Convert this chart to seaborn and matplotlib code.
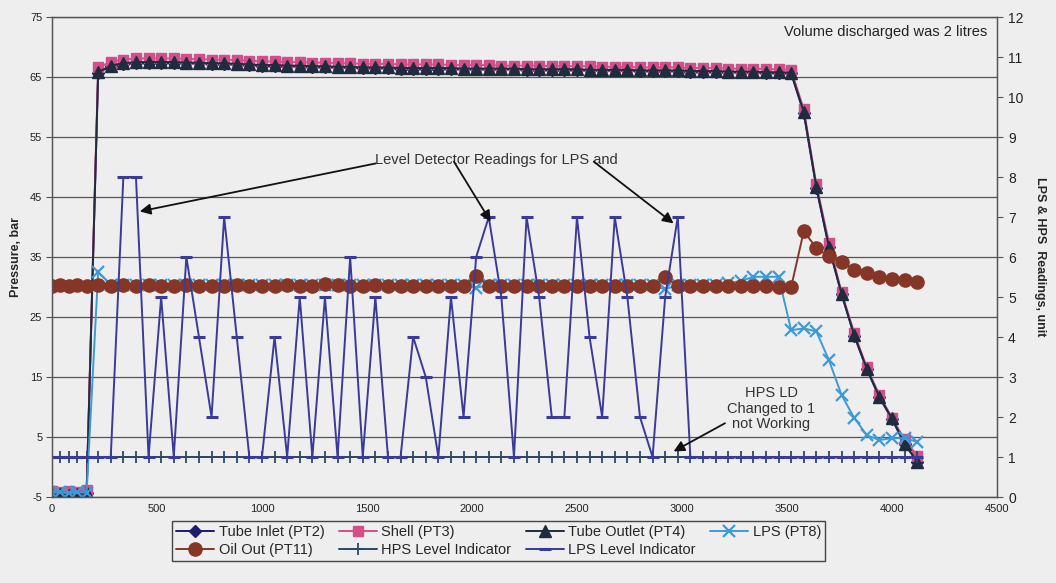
import matplotlib
matplotlib.use("Agg")
import matplotlib.pyplot as plt
import seaborn as sns

# ---------------------------------------------------------------- data
# sample times, s  (start-up | running plateau | discharge)
time_start = [0, 40, 80, 120, 165]
time_run = [220, 280, 340, 400, 460, 520, 580, 640, 700, 760,
            820, 880, 940, 1000, 1060, 1120, 1180, 1240, 1300, 1360,
            1420, 1480, 1540, 1600, 1660, 1720, 1780, 1840, 1900, 1960,
            2020, 2080, 2140, 2200, 2260, 2320, 2380, 2440, 2500, 2560,
            2620, 2680, 2740, 2800, 2860, 2920, 2980, 3040, 3100, 3160,
            3220, 3280, 3340, 3400, 3460, 3520]
time_drop = [3580, 3640, 3700, 3760, 3820, 3880, 3940, 4000, 4060, 4120]
time_s = time_start + time_run + time_drop

# pressures, bar
tube_inlet = ([-4.5, -4.4, -4.5, -4.4, -4.3] +
              [65.7, 66.8, 67.2, 67.4, 67.4, 67.4, 67.4, 67.3, 67.3, 67.2,
               67.2, 67.1, 67.0, 66.9, 66.9, 66.8, 66.8, 66.7, 66.7, 66.6,
               66.6, 66.5, 66.5, 66.5, 66.4, 66.4, 66.4, 66.4, 66.4, 66.3,
               66.3, 66.3, 66.3, 66.3, 66.2, 66.2, 66.2, 66.2, 66.2, 66.1,
               66.1, 66.1, 66.1, 66.0, 66.0, 66.0, 66.0, 65.9, 65.9, 65.9,
               65.8, 65.8, 65.8, 65.7, 65.7, 65.6] +
              [59.0, 46.5, 36.6, 28.8, 21.9, 16.3, 11.6, 8.0, 3.8, 0.9])

shell = ([-4.0, -4.1, -4.0, -4.1, -3.9] +
         [66.6, 67.5, 67.9, 68.1, 68.1, 68.1, 68.1, 68.0, 68.0, 67.9,
          67.9, 67.8, 67.7, 67.6, 67.6, 67.5, 67.5, 67.4, 67.4, 67.3,
          67.3, 67.2, 67.2, 67.2, 67.1, 67.1, 67.1, 67.1, 67.0, 67.0,
          67.0, 67.0, 66.9, 66.9, 66.9, 66.9, 66.8, 66.8, 66.8, 66.8,
          66.7, 66.7, 66.7, 66.6, 66.6, 66.6, 66.6, 66.5, 66.5, 66.5,
          66.4, 66.4, 66.4, 66.3, 66.3, 66.2] +
         [59.6, 47.1, 37.4, 29.1, 22.4, 16.6, 12.0, 8.2, 4.6, 1.9])

tube_outlet = ([-4.6, -4.5, -4.6, -4.5, -4.4] +
               [65.8, 66.9, 67.3, 67.5, 67.5, 67.5, 67.5, 67.4, 67.4, 67.3,
                67.3, 67.2, 67.1, 67.0, 67.0, 66.9, 66.9, 66.8, 66.8, 66.7,
                66.7, 66.6, 66.6, 66.6, 66.5, 66.5, 66.5, 66.5, 66.5, 66.4,
                66.4, 66.4, 66.4, 66.4, 66.3, 66.3, 66.3, 66.3, 66.3, 66.2,
                66.2, 66.2, 66.2, 66.1, 66.1, 66.1, 66.1, 66.0, 66.0, 66.0,
                65.9, 65.9, 65.9, 65.8, 65.8, 65.7] +
               [59.2, 46.7, 36.7, 28.9, 22.0, 16.4, 11.7, 8.1, 3.9, 0.9])

lps_pt8 = ([-4.3, -4.2, -4.4, -4.2, -4.3] +
           [32.5, 30.4, 30.3, 30.4, 30.3, 30.3, 30.4, 30.3, 30.3, 30.4,
            30.3, 30.3, 30.4, 30.3, 30.3, 30.3, 30.4, 30.3, 30.3, 30.3,
            30.4, 30.3, 30.3, 30.3, 30.4, 30.3, 30.3, 30.3, 30.3, 30.4,
            29.9, 30.3, 30.3, 30.4, 30.3, 30.3, 30.3, 30.4, 30.3, 30.3,
            30.3, 30.4, 30.3, 30.3, 30.3, 29.6, 30.4, 30.3, 30.3, 30.4,
            30.6, 31.0, 31.7, 31.7, 31.7, 22.8] +
           [23.1, 22.6, 17.8, 12.0, 8.2, 5.3, 4.5, 4.8, 4.8, 4.2])

oil_out = ([30.2, 30.3, 30.2, 30.3, 30.2] +
           [30.3, 30.2, 30.3, 30.2, 30.3, 30.2, 30.2, 30.3, 30.2, 30.2,
            30.2, 30.3, 30.2, 30.2, 30.2, 30.3, 30.2, 30.2, 30.5, 30.3,
            30.2, 30.2, 30.3, 30.2, 30.2, 30.2, 30.2, 30.1, 30.2, 30.2,
            31.8, 30.2, 30.2, 30.2, 30.1, 30.2, 30.2, 30.2, 30.1, 30.2,
            30.2, 30.1, 30.2, 30.2, 30.1, 31.6, 30.2, 30.1, 30.1, 30.1,
            30.1, 30.1, 30.1, 30.1, 30.0, 30.0] +
           [39.3, 36.5, 35.1, 34.2, 32.9, 32.3, 31.7, 31.3, 31.1, 30.9])

# level detector readings, unit
hps_level = ([1, 1, 1, 1, 1] +
             [1, 1, 1, 1, 1, 1, 1, 1, 1, 1,
              1, 1, 1, 1, 1, 1, 1, 1, 1, 1,
              1, 1, 1, 1, 1, 1, 1, 1, 1, 1,
              1, 1, 1, 1, 1, 1, 1, 1, 1, 1,
              1, 1, 1, 1, 1, 1, 1, 1, 1, 1,
              1, 1, 1, 1, 1, 1] +
             [1, 1, 1, 1, 1, 1, 1, 1, 1, 1])

lps_level = ([1, 1, 1, 1, 1] +
             [1, 1, 8, 8, 1, 5, 1, 6, 4, 2,
              7, 4, 1, 1, 4, 1, 5, 1, 5, 1,
              6, 1, 5, 1, 1, 4, 3, 1, 5, 2,
              6, 7, 5, 1, 7, 5, 2, 2, 7, 4,
              2, 7, 5, 2, 1, 5, 7, 1, 1, 1,
              1, 1, 1, 1, 1, 1] +
             [1, 1, 1, 1, 1, 1, 1, 1, 1, 1])

pressure_ticks = [-5, 5, 15, 25, 35, 45, 55, 65, 75]
level_ticks = [0, 1, 2, 3, 4, 5, 6, 7, 8, 9, 10, 11, 12]
time_ticks = [0, 500, 1000, 1500, 2000, 2500, 3000, 3500, 4000, 4500]

# ---------------------------------------------------------------- style
bg = "#eeeeee"
sns.set_style("white")
plt.rcParams["font.family"] = ["Liberation Sans", "DejaVu Sans"]
plt.rcParams["axes.unicode_minus"] = False

fig = plt.figure(figsize=(10.56, 5.83), dpi=100, facecolor=bg)
ax = fig.add_axes([0.0492, 0.1475, 0.8949, 0.8233], facecolor=bg)
ax2 = ax.twinx()


def draw(axis, y, name, color, marker, ms, mew=1.0, lw=1.4, mec=None):
    sns.lineplot(x=time_s, y=y, ax=axis, color=color, marker=marker,
                 markersize=ms, markeredgewidth=mew,
                 markeredgecolor=mec or color, linewidth=lw, label=name,
                 sort=False, estimator=None, errorbar=None)
    return axis.get_lines()[-1]


h_inlet = draw(ax, tube_inlet, "Tube Inlet (PT2)", "#1c1c70", "D", 6)
h_shell = draw(ax, shell, "Shell (PT3)", "#d24f8a", "s", 7.5)
h_outlet = draw(ax, tube_outlet, "Tube Outlet (PT4)", "#1e2c3e", "^", 8.5)
h_lps = draw(ax, lps_pt8, "LPS (PT8)", "#3d9ad8", "x", 8, mew=1.6)
h_oil = draw(ax, oil_out, "Oil Out (PT11)", "#863626", "o", 9.5)
h_hps = draw(ax2, hps_level, "HPS Level Indicator", "#2c4866", "+", 9, mew=1.3)
h_lpsl = draw(ax2, lps_level, "LPS Level Indicator", "#3a3a98", "_", 8, mew=2.2)

for a in (ax, ax2):
    if a.get_legend() is not None:
        a.get_legend().remove()

# ---------------------------------------------------------------- axes
ax.set_xlim(0, 4500)
ax.set_ylim(-5, 75)
ax2.set_ylim(0, 12)
ax.set_xticks(time_ticks)
ax.set_yticks(pressure_ticks)
ax2.set_yticks(level_ticks)
ax.set_xlabel("")
ax.set_ylabel("Pressure, bar", fontsize=9, fontweight="bold", labelpad=6)
ax2.set_ylabel("LPS & HPS  Readings, unit", fontsize=9, fontweight="bold",
               rotation=270, labelpad=16)

ax.grid(axis="y", color="#555555", linewidth=0.9)
ax.grid(axis="x", visible=False)
ax2.grid(False)
ax.set_axisbelow(True)
for a in (ax, ax2):
    for s in a.spines.values():
        s.set_color("#555555")
        s.set_linewidth(0.9)

ax.tick_params(axis="y", direction="out", length=4, width=0.8,
               color="#555555", labelsize=8, pad=3, labelcolor="#222222")
ax.tick_params(axis="x", direction="in", length=3, width=0.8,
               color="#555555", labelsize=8, pad=5, labelcolor="#222222")
ax2.tick_params(axis="y", direction="out", length=4, width=0.8,
                color="#555555", labelsize=10, pad=4, labelcolor="#222222")

# ---------------------------------------------------------------- notes
arrow = dict(arrowstyle="-|>", color="#111111", lw=1.3, mutation_scale=16,
             shrinkA=0, shrinkB=0)
ax2.text(1540, 51.2, "Level Detector Readings for LPS and",
         transform=ax.transData, ha="left", va="center", fontsize=10.5,
         color="#333333")
for start, tip in [((1542, 50.6), (418, 42.6)),
                   ((1914, 50.9), (2089, 40.9)),
                   ((2580, 50.9), (2960, 40.6)),
                   ((3205, 7.3), (2960, 2.6))]:
    ax2.annotate("", xy=tip, xytext=start, xycoords=ax.transData,
                 textcoords=ax.transData, arrowprops=arrow)

ax2.text(3425, 9.7, "HPS LD\nChanged to 1\nnot Working",
         transform=ax.transData, ha="center", va="center", fontsize=10.5,
         color="#333333", linespacing=1.15)
ax2.text(0.99, 0.969, "Volume discharged was 2 litres",
         transform=ax2.transAxes, ha="right", va="center", fontsize=10.5,
         color="#222222")

# ---------------------------------------------------------------- legend
handles = [h_inlet, h_oil, h_shell, h_hps, h_outlet, h_lpsl, h_lps]
labels = [h.get_label() for h in handles]
fig.legend(handles, labels, loc="upper left",
           bbox_to_anchor=(172 / 1056, 1 - 521 / 583), ncol=4,
           frameon=True, fancybox=False, edgecolor="#444444",
           facecolor=bg, framealpha=1, fontsize=10.5, handlelength=2.6,
           handletextpad=0.3, columnspacing=1.0, borderpad=0.3,
           labelspacing=0.25, borderaxespad=0)

fig.savefig("out.png", dpi=100, facecolor=bg)
